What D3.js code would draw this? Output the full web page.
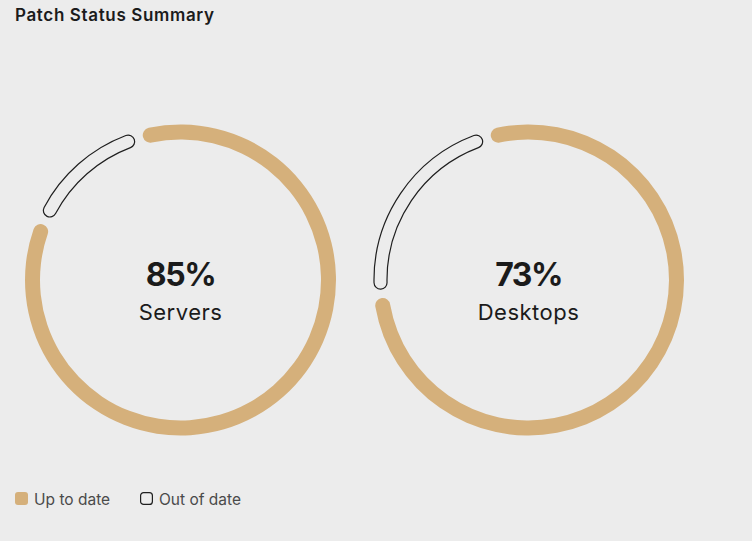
<!DOCTYPE html>
<html><head><meta charset="utf-8">
<script src="https://cdn.jsdelivr.net/npm/d3@7"></script>
<style>
html,body{margin:0;padding:0;background:#ececec;}
svg{display:block;font-family:Inter,"Noto Sans",sans-serif;}
</style></head>
<body>
<svg id="chart" width="752" height="541"></svg>
<script>
const title = "Patch Status Summary";
const categories = ["Servers", "Desktops"];
const upToDate = [85, 73];
const legendLabels = ["Up to date", "Out of date"];
const colors = {up: "#d5b07b", outline: "#1f1f1f", bg: "#ececec", text: "#1b1b1b", legend: "#4a4a4a"};

const svg = d3.select("#chart");
svg.append("rect").attr("width", 752).attr("height", 541).attr("fill", colors.bg);

svg.append("text").attr("x", 15).attr("y", 21)
  .attr("font-size", 17).attr("font-weight", 600).attr("fill", colors.text)
  .attr("textLength", 199).attr("lengthAdjust", "spacing").text(title);

const deg = Math.PI / 180;
const xScale = d3.scalePoint().domain(categories).range([180.5, 528.5]);
const cy = 280;
// angular extent of the out-of-date segment (degrees, incl. rounded ends)
const outScale = d3.scaleLinear().domain([0, 100]).range([10, 252]);
const startAngle = -14.7, gap = 3.5;

const arcUp = d3.arc().innerRadius(140.5).outerRadius(155.5).cornerRadius(7.5);
const arcOut = d3.arc().innerRadius(141.5).outerRadius(154.5).cornerRadius(6.5);

categories.forEach((cat, i) => {
  const g = svg.append("g").attr("transform", `translate(${xScale(cat)},${cy})`);
  const outVal = 100 - upToDate[i];
  const outExt = outScale(outVal);
  const upEnd = startAngle + 360 - 2 * gap - outExt;
  g.append("path")
    .attr("d", arcUp({startAngle: startAngle * deg, endAngle: upEnd * deg}))
    .attr("fill", colors.up);
  g.append("path")
    .attr("d", arcOut({startAngle: (upEnd + gap) * deg, endAngle: (upEnd + gap + outExt) * deg}))
    .attr("fill", "none").attr("stroke", colors.outline).attr("stroke-width", 1.2);
  g.append("text").attr("text-anchor", "middle").attr("y", 6)
    .attr("font-size", 32).attr("font-weight", 700).attr("fill", colors.text)
    .attr("letter-spacing", "-1.5")
    .text(upToDate[i] + "%");
  g.append("text").attr("text-anchor", "middle").attr("y", 40)
    .attr("font-size", 22).attr("font-weight", 400).attr("fill", colors.text)
    .attr("letter-spacing", "0.5")
    .text(cat);
});

const legendX = [15, 140];
legendLabels.forEach((lab, i) => {
  const lg = svg.append("g").attr("transform", `translate(${legendX[i]},492)`);
  lg.append("rect").attr("x", i ? 0.6 : 0).attr("y", i ? 0.6 : 0)
    .attr("width", i ? 11.8 : 13).attr("height", i ? 11.8 : 13).attr("rx", 3)
    .attr("fill", i ? "none" : colors.up)
    .attr("stroke", i ? colors.outline : "none").attr("stroke-width", 1.2);
  lg.append("text").attr("x", 19).attr("y", 12.5)
    .attr("font-size", 15.5).attr("fill", colors.legend).text(lab);
});
</script>
</body></html>
